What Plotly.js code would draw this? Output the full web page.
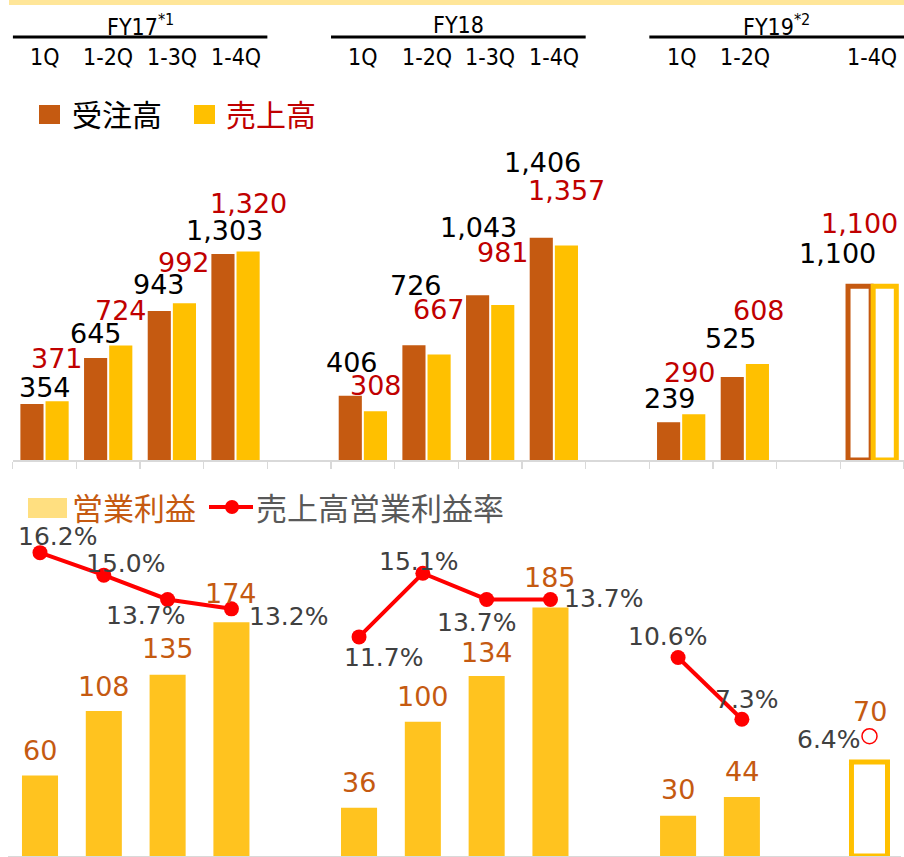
<!DOCTYPE html>
<html><head><meta charset="utf-8">
<script src="https://cdn.plot.ly/plotly-3.0.1.min.js"></script>
<style>html,body{margin:0;padding:0;background:#fff}#chart{width:904px;height:857px}</style>
</head><body><div id="chart"></div>
<script>
// ---------- data ----------
const categories = ['FY17 1Q','FY17 1-2Q','FY17 1-3Q','FY17 1-4Q','gap-a',
                    'FY18 1Q','FY18 1-2Q','FY18 1-3Q','FY18 1-4Q','gap-b',
                    'FY19 1Q','FY19 1-2Q','gap-c','FY19 1-4Q'];
const quarterLabels = ['1Q','1-2Q','1-3Q','1-4Q','','1Q','1-2Q','1-3Q','1-4Q','','1Q','1-2Q','','1-4Q'];
const fiscalYears = ['FY17<sup>*1</sup>','FY18','FY19<sup>*2</sup>'];
const orders   = [354, 645, 943, 1303, null, 406, 726, 1043, 1406, null, 239, 525, null, 1100];
const sales    = [371, 724, 992, 1320, null, 308, 667, 981, 1357, null, 290, 608, null, 1100];
const opProfit = [60, 108, 135, 174, null, 36, 100, 134, 185, null, 30, 44, null, 70];
const opMargin = [16.2, 15.0, 13.7, 13.2, null, 11.7, 15.1, 13.7, 13.7, null, 10.6, 7.3, null, 6.4];
const isForecast = [false,false,false,false,false,false,false,false,false,false,false,false,false,true];
const legendTop = ['受注高','売上高'];
const legendBottom = ['営業利益','売上高営業利益率'];

// ---------- styles / positions ----------
const W = 904, H = 857;
const px = x => x / W;
const py = y => 1 - y / H;
const C_ORD = '#C55A11', C_SAL = '#FFC000', C_RED_TXT = '#C00000', C_OP = '#FFC31F';
const NUM_FONT = 'DejaVu Sans, Verdana, sans-serif';
const CJK_FONT = 'Noto Sans CJK JP, sans-serif';
const HDR_FONT = 'DejaVu Sans Condensed, Liberation Sans Narrow, DejaVu Sans, sans-serif';
// label shifts in pixels [dx, dy(down)] relative to bar top / marker
const ordShift = [[0,-17],[-12,-25],[-13,-26],[-11.5,-24],null,[-11.3,-33],[-11,-60],[-12,-68],[-11,-75],null,[-11,-24],[-14,-39],null,[-35,-33]];
const salShift = [[12,-43],[12.5,-35],[12,-41],[12.5,-48],null,[12.7,-26],[12,-45],[13,-52],[13,-55],null,[9,-42],[14,-53],null,[-12.6,-63]];
const opShift  = [25,24,26,29,null,25,25,24,30,null,26,25,null,50];
const mgShift  = [[17,-16],[21.5,-12],[-22,16],[57,8],null,[24,21],[-4,-12],[-10.5,23],[53.5,-1],null,[-10.5,-21],[5,-20],null,[-41,3]];

const fmt = v => v.toLocaleString('en-US');

const traces = [
  {
    type:'bar', name:legendTop[0], x:categories, y:orders, xaxis:'x', yaxis:'y',
    marker:{ color: isForecast.map(f => f ? '#FFFFFF' : C_ORD),
             line:{ color: C_ORD, width: isForecast.map(f => f ? 5 : 0) } },
    hoverinfo:'skip'
  },
  {
    type:'bar', name:legendTop[1], x:categories, y:sales, xaxis:'x', yaxis:'y',
    marker:{ color: isForecast.map(f => f ? '#FFFFFF' : C_SAL),
             line:{ color: C_SAL, width: isForecast.map(f => f ? 5 : 0) } },
    hoverinfo:'skip'
  },
  {
    type:'bar', name:legendBottom[0], x:categories, y:opProfit, xaxis:'x2', yaxis:'y2',
    width:0.565, offset:-0.2825,
    marker:{ color: isForecast.map(f => f ? '#FFFFFF' : C_OP),
             line:{ color: C_SAL, width: isForecast.map(f => f ? 5 : 0) } },
    hoverinfo:'skip'
  },
  {
    type:'scatter', mode:'lines', name:legendBottom[1], x:categories, y:opMargin,
    xaxis:'x2', yaxis:'y3', connectgaps:false, opacity:1,
    line:{ color:'#FF0000', width:4 },
    cliponaxis:false, hoverinfo:'skip'
  },
  {
    type:'scatter', mode:'markers', name:legendBottom[1], x:categories, y:opMargin,
    xaxis:'x2', yaxis:'y3', opacity:1,
    marker:{ color: isForecast.map(f => f ? 'rgba(0,0,0,0)' : '#FF0000'), size:15, opacity:1,
             symbol:'circle',
             line:{ color:'#FF0000', width: isForecast.map(f => f ? 1.5 : 0) } },
    cliponaxis:false, hoverinfo:'skip'
  }
];

const annotations = [];
const shapes = [];

// header band
shapes.push({type:'rect', xref:'paper', yref:'paper', x0:px(9), x1:1, y0:py(5), y1:1,
             fillcolor:'#FFE699', line:{width:0}});
// fiscal-year spans
const fySpans = [[-0.5,3.5],[4.5,8.5],[9.5,13.5]];
fiscalYears.forEach((fy, i) => {
  const [a, b] = fySpans[i];
  shapes.push({type:'line', xref:'x', yref:'paper', x0:a, x1:b, y0:py(37), y1:py(37),
               line:{color:'#000000', width:3}});
  annotations.push({xref:'x', yref:'paper', x:(a+b)/2, y:py(25), text:fy, showarrow:false,
                    xanchor:'center', yanchor:'middle', font:{family:HDR_FONT, size:23, color:'#000'}});
});
quarterLabels.forEach((q, i) => {
  if (!q) return;
  annotations.push({xref:'x', yref:'paper', x:categories[i], y:py(57), text:q, showarrow:false,
                    xanchor:'center', yanchor:'middle', font:{family:HDR_FONT, size:23, color:'#000'}});
});

// top legend
shapes.push({type:'rect', xref:'paper', yref:'paper', x0:px(39), x1:px(60), y0:py(124), y1:py(105), fillcolor:C_ORD, line:{width:0}});
annotations.push({xref:'paper', yref:'paper', x:px(70), y:py(113), text:legendTop[0], showarrow:false,
                  xanchor:'left', yanchor:'middle', font:{family:CJK_FONT, size:30, color:'#000000'}});
shapes.push({type:'rect', xref:'paper', yref:'paper', x0:px(194), x1:px(215), y0:py(124), y1:py(105), fillcolor:C_SAL, line:{width:0}});
annotations.push({xref:'paper', yref:'paper', x:px(224), y:py(113), text:legendTop[1], showarrow:false,
                  xanchor:'left', yanchor:'middle', font:{family:CJK_FONT, size:30, color:C_RED_TXT}});

// bottom legend
shapes.push({type:'rect', xref:'paper', yref:'paper', x0:px(28), x1:px(67), y0:py(518), y1:py(498), fillcolor:'#FFDF80', line:{width:0}});
annotations.push({xref:'paper', yref:'paper', x:px(70), y:py(506), text:legendBottom[0], showarrow:false,
                  xanchor:'left', yanchor:'middle', font:{family:CJK_FONT, size:31, color:C_ORD}});
shapes.push({type:'line', xref:'paper', yref:'paper', x0:px(209), x1:px(253), y0:py(507), y1:py(507), line:{color:'#FF0000', width:4}});
shapes.push({type:'circle', xref:'paper', yref:'paper', x0:px(225), x1:px(239), y0:py(514), y1:py(500), fillcolor:'#FF0000', line:{width:0}});
annotations.push({xref:'paper', yref:'paper', x:px(254), y:py(506), text:legendBottom[1], showarrow:false,
                  xanchor:'left', yanchor:'middle', font:{family:CJK_FONT, size:31, color:'#595959'}});

// value labels
categories.forEach((c, i) => {
  if (orders[i] != null) {
    annotations.push({xref:'x', yref:'y', x:c, y:orders[i], xshift:ordShift[i][0], yshift:-ordShift[i][1],
      text:fmt(orders[i]), showarrow:false, xanchor:'center', yanchor:'middle',
      font:{family:NUM_FONT, size:27, color:'#000000'}});
  }
  if (sales[i] != null) {
    annotations.push({xref:'x', yref:'y', x:c, y:sales[i], xshift:salShift[i][0], yshift:-salShift[i][1],
      text:fmt(sales[i]), showarrow:false, xanchor:'center', yanchor:'middle',
      font:{family:NUM_FONT, size:27, color:C_RED_TXT}});
  }
  if (opProfit[i] != null) {
    annotations.push({xref:'x2', yref:'y2', x:c, y:opProfit[i], yshift:opShift[i],
      text:fmt(opProfit[i]), showarrow:false, xanchor:'center', yanchor:'middle',
      font:{family:NUM_FONT, size:27, color:C_ORD}});
  }
  if (opMargin[i] != null) {
    annotations.push({xref:'x2', yref:'y3', x:c, y:opMargin[i], xshift:mgShift[i][0], yshift:-mgShift[i][1],
      text:opMargin[i].toFixed(1) + '%', showarrow:false, xanchor:'center', yanchor:'middle',
      font:{family:NUM_FONT, size:25, color:'#404040'}});
  }
});

const layout = {
  width:W, height:H, margin:{l:0, r:0, t:0, b:0},
  paper_bgcolor:'#FFFFFF', plot_bgcolor:'rgba(0,0,0,0)',
  showlegend:false, barmode:'group', bargap:0.21, bargroupgap:0.08,
  xaxis:{ domain:[px(12.7), 1], anchor:'y', type:'category', categoryorder:'array', categoryarray:categories,
          range:[-0.5, 13.5], tickson:'boundaries', ticks:'outside', ticklen:7, tickwidth:1.5, tickcolor:'#D9D9D9',
          showline:true, linecolor:'#D9D9D9', linewidth:2, showticklabels:false, showgrid:false, zeroline:false, fixedrange:true },
  yaxis:{ domain:[py(460), py(140)], anchor:'x', range:[0, 2025], visible:false, fixedrange:true },
  xaxis2:{ domain:[px(8.1), px(901.4)], anchor:'y2', type:'category', categoryorder:'array', categoryarray:categories,
           range:[-0.5, 13.5], ticks:'', showline:true, linecolor:'#D9D9D9', linewidth:1.5,
           showticklabels:false, showgrid:false, zeroline:false, fixedrange:true },
  yaxis2:{ domain:[py(856), py(530)], anchor:'x2', range:[0, 242.7], visible:false, fixedrange:true },
  yaxis3:{ overlaying:'y2', anchor:'x2', range:[0, 17.41], visible:false, fixedrange:true },
  shapes:shapes, annotations:annotations
};

Plotly.newPlot('chart', traces, layout, {staticPlot:true, displayModeBar:false});
</script>
</body></html>
